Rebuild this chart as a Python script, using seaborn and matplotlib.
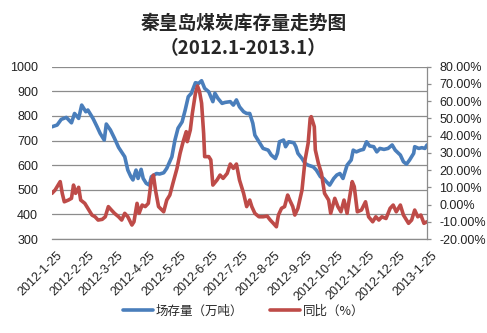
import matplotlib
matplotlib.use("Agg")
import matplotlib.pyplot as plt
import matplotlib.ticker as mticker
import matplotlib.transforms as mtransforms
import numpy as np
import pandas as pd
import seaborn as sns

# Port stock (10k tonnes), sampled by day offset from 2012-01-25
stock_days = [0, 5, 9, 14, 19, 22, 26, 29, 33, 35, 40, 44, 47, 51, 53, 57, 61, 65, 71, 74,
              77, 79, 82, 84, 87, 89, 92, 95, 97, 102, 105, 109, 112, 117, 120, 123, 127, 130,
              133, 136, 140, 143, 146, 149, 153, 157, 159, 162, 166, 169, 174, 177, 180, 183,
              187, 190, 193, 196, 198, 201, 206, 211, 214, 218, 220, 222, 226, 228, 231, 236,
              238, 240, 244, 247, 250, 255, 258, 262, 265, 268, 271, 275, 278, 281, 284, 288,
              292, 294, 297, 301, 304, 307, 310, 314, 317, 320, 324, 328, 332, 335, 340, 343,
              346, 349, 353, 354, 358, 361, 364, 366]
stock_vals = [756, 763, 786, 794, 772, 810, 790, 844, 817, 824, 790, 756, 729, 702, 767, 743,
              709, 672, 634, 580, 553, 540, 580, 546, 583, 546, 526, 519, 553, 566, 564, 569,
              587, 634, 702, 750, 776, 824, 878, 892, 935, 932, 943, 912, 898, 858, 892, 871,
              851, 855, 858, 844, 865, 837, 817, 810, 810, 770, 722, 702, 668, 661, 641, 627,
              648, 695, 702, 675, 695, 691, 675, 648, 627, 607, 600, 593, 580, 553, 546, 532,
              519, 546, 560, 566, 546, 600, 621, 661, 654, 661, 664, 695, 678, 675, 654, 668,
              664, 668, 682, 661, 641, 614, 604, 621, 648, 675, 668, 671, 668, 682]

# Year-on-year change (%), sampled by day offset from 2012-01-25
yoy_days = [0, 3, 8, 10, 12, 16, 19, 21, 23, 26, 28, 32, 35, 39, 42, 45, 49, 52, 55, 58, 61,
            65, 68, 71, 74, 78, 80, 83, 85, 88, 91, 94, 97, 99, 101, 104, 109, 112, 115, 118,
            122, 125, 128, 131, 132, 135, 137, 140, 142, 144, 146, 148, 149, 153, 155, 157,
            161, 164, 167, 171, 174, 177, 180, 183, 187, 190, 193, 195, 198, 202, 206, 210,
            213, 216, 219, 221, 224, 227, 230, 232, 235, 237, 240, 244, 247, 250, 252, 253,
            256, 257, 260, 263, 266, 270, 272, 276, 279, 282, 285, 288, 290, 293, 295, 298,
            302, 306, 309, 313, 316, 319, 322, 326, 330, 333, 336, 340, 343, 348, 351, 354,
            357, 360, 363, 366]
yoy_vals = [6.5, 8.4, 13.3, 6.5, 1.6, 2.6, 3.6, 11.3, 6.5, 10.0, 2.6, 0.7, -2.2, -6.1, -7.1,
            -9.0, -8.6, -7.1, -1.2, -3.2, -5.1, -7.1, -9.0, -5.1, -7.1, -11.9, -10.0, 0.7,
            -5.1, -0.3, -1.2, 0.7, 14.2, 17.1, 8.4, -1.2, -4.2, 2.6, 5.5, 12.3, 21.0, 29.7,
            36.5, 42.3, 36.5, 43.3, 53.0, 64.6, 68.8, 65.5, 58.8, 41.3, 27.8, 27.8, 25.9,
            11.3, 14.2, 17.1, 15.2, 18.1, 23.5, 21.0, 23.5, 14.2, 6.5, -1.2, 2.6, -1.2, -5.1,
            -7.1, -7.1, -6.7, -9.0, -10.9, -12.9, -6.1, -2.2, -1.2, 5.5, 2.6, -1.2, -6.1,
            -2.2, 8.4, 25.9, 35.6, 50.1, 51.0, 45.2, 31.7, 23.9, 18.1, 6.5, 2.6, -5.1, 3.6,
            -1.2, -4.2, 2.6, -5.1, 2.6, 13.3, 10.4, -4.2, -3.2, 1.6, -7.1, -10.0, -7.1, -9.0,
            -7.1, -8.1, -2.2, -0.3, -4.2, -0.3, -6.1, -10.9, -9.0, -3.2, -7.1, -6.1, -10.9,
            -10.0]

start_date = "2012-01-25"
tick_dates_str = ["2012-01-25", "2012-02-25", "2012-03-25", "2012-04-25", "2012-05-25",
                  "2012-06-25", "2012-07-25", "2012-08-25", "2012-09-25", "2012-10-25",
                  "2012-11-25", "2012-12-25", "2013-01-25"]
tick_labels = ["2012-1-25", "2012-2-25", "2012-3-25", "2012-4-25", "2012-5-25", "2012-6-25",
               "2012-7-25", "2012-8-25", "2012-9-25", "2012-10-25", "2012-11-25",
               "2012-12-25", "2013-1-25"]
title_text = "秦皇岛煤炭库存量走势图\n（2012.1-2013.1）"
stock_label = "场存量（万吨）"
yoy_label = "同比（%）"

BLUE = "#4A7EBB"
RED = "#BE4B48"
GRID = "#8C8C8C"

sns.set_theme(style="white")
plt.rcParams["font.family"] = ["Liberation Sans", "Noto Sans CJK SC", "DejaVu Sans"]

base = pd.Timestamp(start_date)
stock_df = pd.DataFrame({"date": base + pd.to_timedelta(stock_days, unit="D"),
                         "value": stock_vals})
yoy_df = pd.DataFrame({"date": base + pd.to_timedelta(yoy_days, unit="D"),
                       "value": np.array(yoy_vals) / 100.0})
tick_dates = pd.to_datetime(tick_dates_str)

fig = plt.figure(figsize=(4.87, 3.33), dpi=100)
ax = fig.add_axes([52 / 487, 1 - 239 / 333, (427 - 52) / 487, (239 - 66.7) / 333])
ax2 = ax.twinx()

sns.lineplot(data=stock_df, x="date", y="value", ax=ax, color=BLUE, linewidth=2.6)
sns.lineplot(data=yoy_df, x="date", y="value", ax=ax2, color=RED, linewidth=2.6)

# Left axis: stock
ax.set_ylim(300, 1000)
ax.yaxis.set_major_locator(mticker.MultipleLocator(100))
ax.grid(axis="y", color=GRID, linewidth=0.9)
ax.set_axisbelow(True)
ax.set_xlabel("")
ax.set_ylabel("")
ax.tick_params(axis="y", length=0, pad=10, labelsize=9, colors="#222222")

# Right axis: year-on-year
ax2.set_ylim(-0.2, 0.8)
ax2.yaxis.set_major_locator(mticker.MultipleLocator(0.1))
ax2.yaxis.set_major_formatter(mticker.FuncFormatter(lambda v, p: f"{v * 100:.2f}%"))
ax2.set_ylabel("")
ax2.tick_params(axis="y", length=3, width=0.9, pad=6, labelsize=9, colors="#222222")
ax2.tick_params(axis="y", color=GRID)

# Date axis with monthly ticks on the 25th
ax.set_xlim(tick_dates[0], tick_dates[-1])
ax.set_xticks(tick_dates)
ax.set_xticklabels(tick_labels, rotation=45, ha="right", rotation_mode="anchor", fontsize=9,
                   color="#222222")
ax.tick_params(axis="x", length=0, pad=6)
shift = mtransforms.ScaledTranslation(4 / 100, -2 / 100, fig.dpi_scale_trans)
for lbl in ax.get_xticklabels():
    lbl.set_transform(lbl.get_transform() + shift)
ax2.set_xlim(tick_dates[0], tick_dates[-1])

for a in (ax, ax2):
    for s in ("top", "left", "bottom", "right"):
        a.spines[s].set_visible(False)
ax.spines["bottom"].set_visible(True)
ax.spines["bottom"].set_color(GRID)
ax.spines["bottom"].set_linewidth(0.9)
ax2.spines["right"].set_visible(True)
ax2.spines["right"].set_color(GRID)
ax2.spines["right"].set_linewidth(0.9)

fig.text(0.5, 1 - 36 / 333, title_text, ha="center", va="center", fontsize=13.5,
         fontweight="bold", family=["Noto Sans CJK SC"], linespacing=1.45)

handles = [plt.Line2D([], [], color=BLUE, linewidth=2.6),
           plt.Line2D([], [], color=RED, linewidth=2.6)]
fig.legend(handles, [stock_label, yoy_label], loc="center", ncol=2,
           bbox_to_anchor=(0.5, 1 - 311 / 333), frameon=False,
           handlelength=2.4, handletextpad=0.2, columnspacing=2.2,
           prop={"family": ["Noto Sans CJK SC"], "size": 9})

fig.savefig("out.png", dpi=100)
